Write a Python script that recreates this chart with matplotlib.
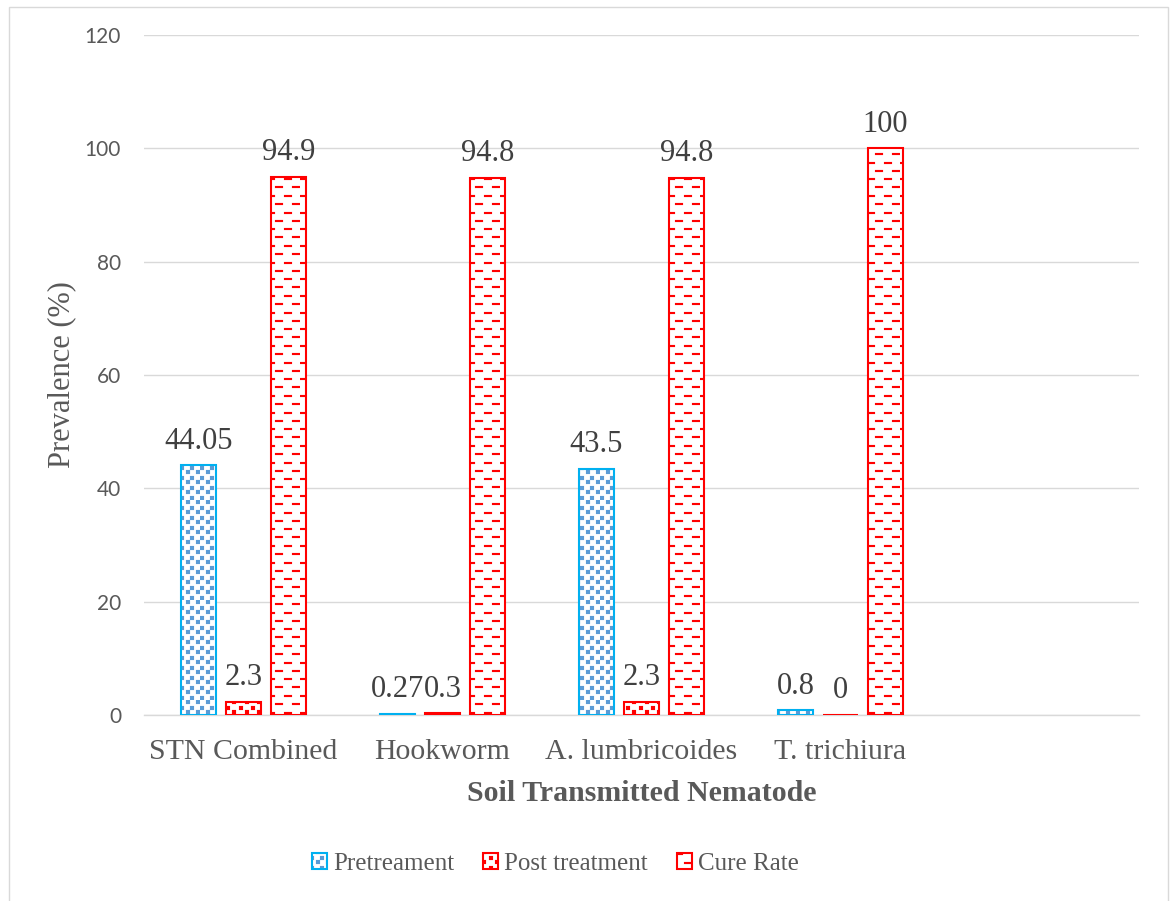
import numpy as np
import matplotlib
matplotlib.use('Agg')
import matplotlib.pyplot as plt
import matplotlib.hatch as mhatch
from matplotlib.path import Path
from matplotlib.patches import Rectangle

categories = ['STN Combined', 'Hookworm', 'A. lumbricoides', 'T. trichiura']
pretreatment = [44.05, 0.27, 43.5, 0.8]
post_treatment = [2.3, 0.3, 2.3, 0]
cure_rate = [94.9, 94.8, 94.8, 100]
series_names = ['Pretreament', 'Post treatment', 'Cure Rate']
yticks = [0, 20, 40, 60, 80, 100, 120]

TILE = 100  # hatch tile size in pixels (= dpi)

# staggered filled rectangles per hatch char: rows, cols, width px, height px
PATTERNS = {
    '.': (20, 10, 4, 4),
    'o': (20, 8, 4, 4),
    '-': (12, 6, 8, 2),
}


class StaggeredRects(mhatch.HatchPatternBase):
    def __init__(self, hatch, density):
        self.rects = []
        for ch, (rows, cols, w, h) in PATTERNS.items():
            if not hatch or ch not in hatch:
                continue
            dy = TILE / rows
            dx = TILE / cols
            for r in range(rows):
                yc = (r + 0.5) * dy
                shift = 0.5 * dx * (r % 2)
                for c in range(-1, cols + 1):
                    xc = c * dx + shift + dx / 4
                    x0 = round(xc - w / 2)
                    y0 = round(yc - h / 2)
                    if x0 + w <= 0 or x0 >= TILE:
                        continue
                    self.rects.append((x0, y0, w, h))
        self.num_vertices = 5 * len(self.rects)

    def set_vertices_and_codes(self, vertices, codes):
        for i, (x0, y0, w, h) in enumerate(self.rects):
            vertices[5 * i:5 * i + 5] = np.array(
                [[x0, y0], [x0 + w, y0], [x0 + w, y0 + h], [x0, y0 + h], [x0, y0]]) / TILE
            codes[5 * i] = Path.MOVETO
            codes[5 * i + 1:5 * i + 4] = Path.LINETO
            codes[5 * i + 4] = Path.CLOSEPOLY


mhatch._hatch_types = [StaggeredRects]
plt.rcParams['hatch.linewidth'] = 0.1

SERIF = 'Liberation Serif'
GREY = '#595959'

fig = plt.figure(figsize=(11.7, 9.01), dpi=100)
ax = fig.add_axes([0.1231, 0.2064, 0.8504, 0.7548])

x = np.arange(len(categories))
width = 0.18
step = 0.226
styles = [('.', '#5B9BD5', '#00B0F0'),
          ('o', '#FF0000', '#FF0000'),
          ('-', '#FF0000', '#FF0000')]

handles = []
for i, (vals, (hatch, hcol, ecol)) in enumerate(zip([pretreatment, post_treatment, cure_rate], styles)):
    pos = x + (i - 1) * step
    fill = ax.bar(pos, vals, width, color='white', edgecolor=hcol, linewidth=0,
                  hatch=hatch, zorder=2)
    outline = ax.bar(pos, vals, width, facecolor='none', edgecolor=ecol,
                     linewidth=1.5, zorder=3)
    ax.bar_label(outline, labels=[f'{v:g}' for v in vals], padding=7,
                 fontsize=22, color='#404040', family=SERIF)
    handles.append((fill[0], outline[0]))

ax.set_xlim(-0.5, 4.5)
ax.set_ylim(0, 120)
ax.set_yticks(yticks)
ax.set_yticklabels([str(t) for t in yticks], family='Lato', fontsize=15, color=GREY)
ax.set_xticks(x)
ax.set_xticklabels(categories, family=SERIF, fontsize=21.5, color=GREY)
ax.tick_params(axis='y', length=0, pad=16.5)
ax.tick_params(axis='x', length=0, pad=17.5)

ax.yaxis.grid(True, color='#D9D9D9', linewidth=1.0)
ax.set_axisbelow(True)
for side in ['left', 'right', 'top']:
    ax.spines[side].set_visible(False)
ax.spines['bottom'].set_color('#D9D9D9')
ax.spines['bottom'].set_linewidth(1.0)

ax.text(-0.0824, 0.5, 'Prevalence (%)', transform=ax.transAxes, rotation=90,
        ha='center', va='center', family=SERIF, fontsize=22, color=GREY)
ax.text(0.5, -0.1265, 'Soil Transmitted Nematode', transform=ax.transAxes,
        ha='center', va='baseline', family=SERIF, fontsize=21.5, fontweight='bold',
        color=GREY)

fig.legend(handles, series_names, loc='center', bbox_to_anchor=(0.4748, 0.041),
           ncol=3, frameon=False, prop={'family': SERIF, 'size': 18},
           labelcolor=GREY, handlelength=0.6, handleheight=0.6,
           handletextpad=0.25, columnspacing=1.15)

# chart area border
fig.add_artist(Rectangle((0.0077, -0.02), 0.9906, 1.0122, transform=fig.transFigure,
                         fill=False, edgecolor='#D9D9D9', linewidth=1.0))

fig.savefig('out.png', dpi=100)
